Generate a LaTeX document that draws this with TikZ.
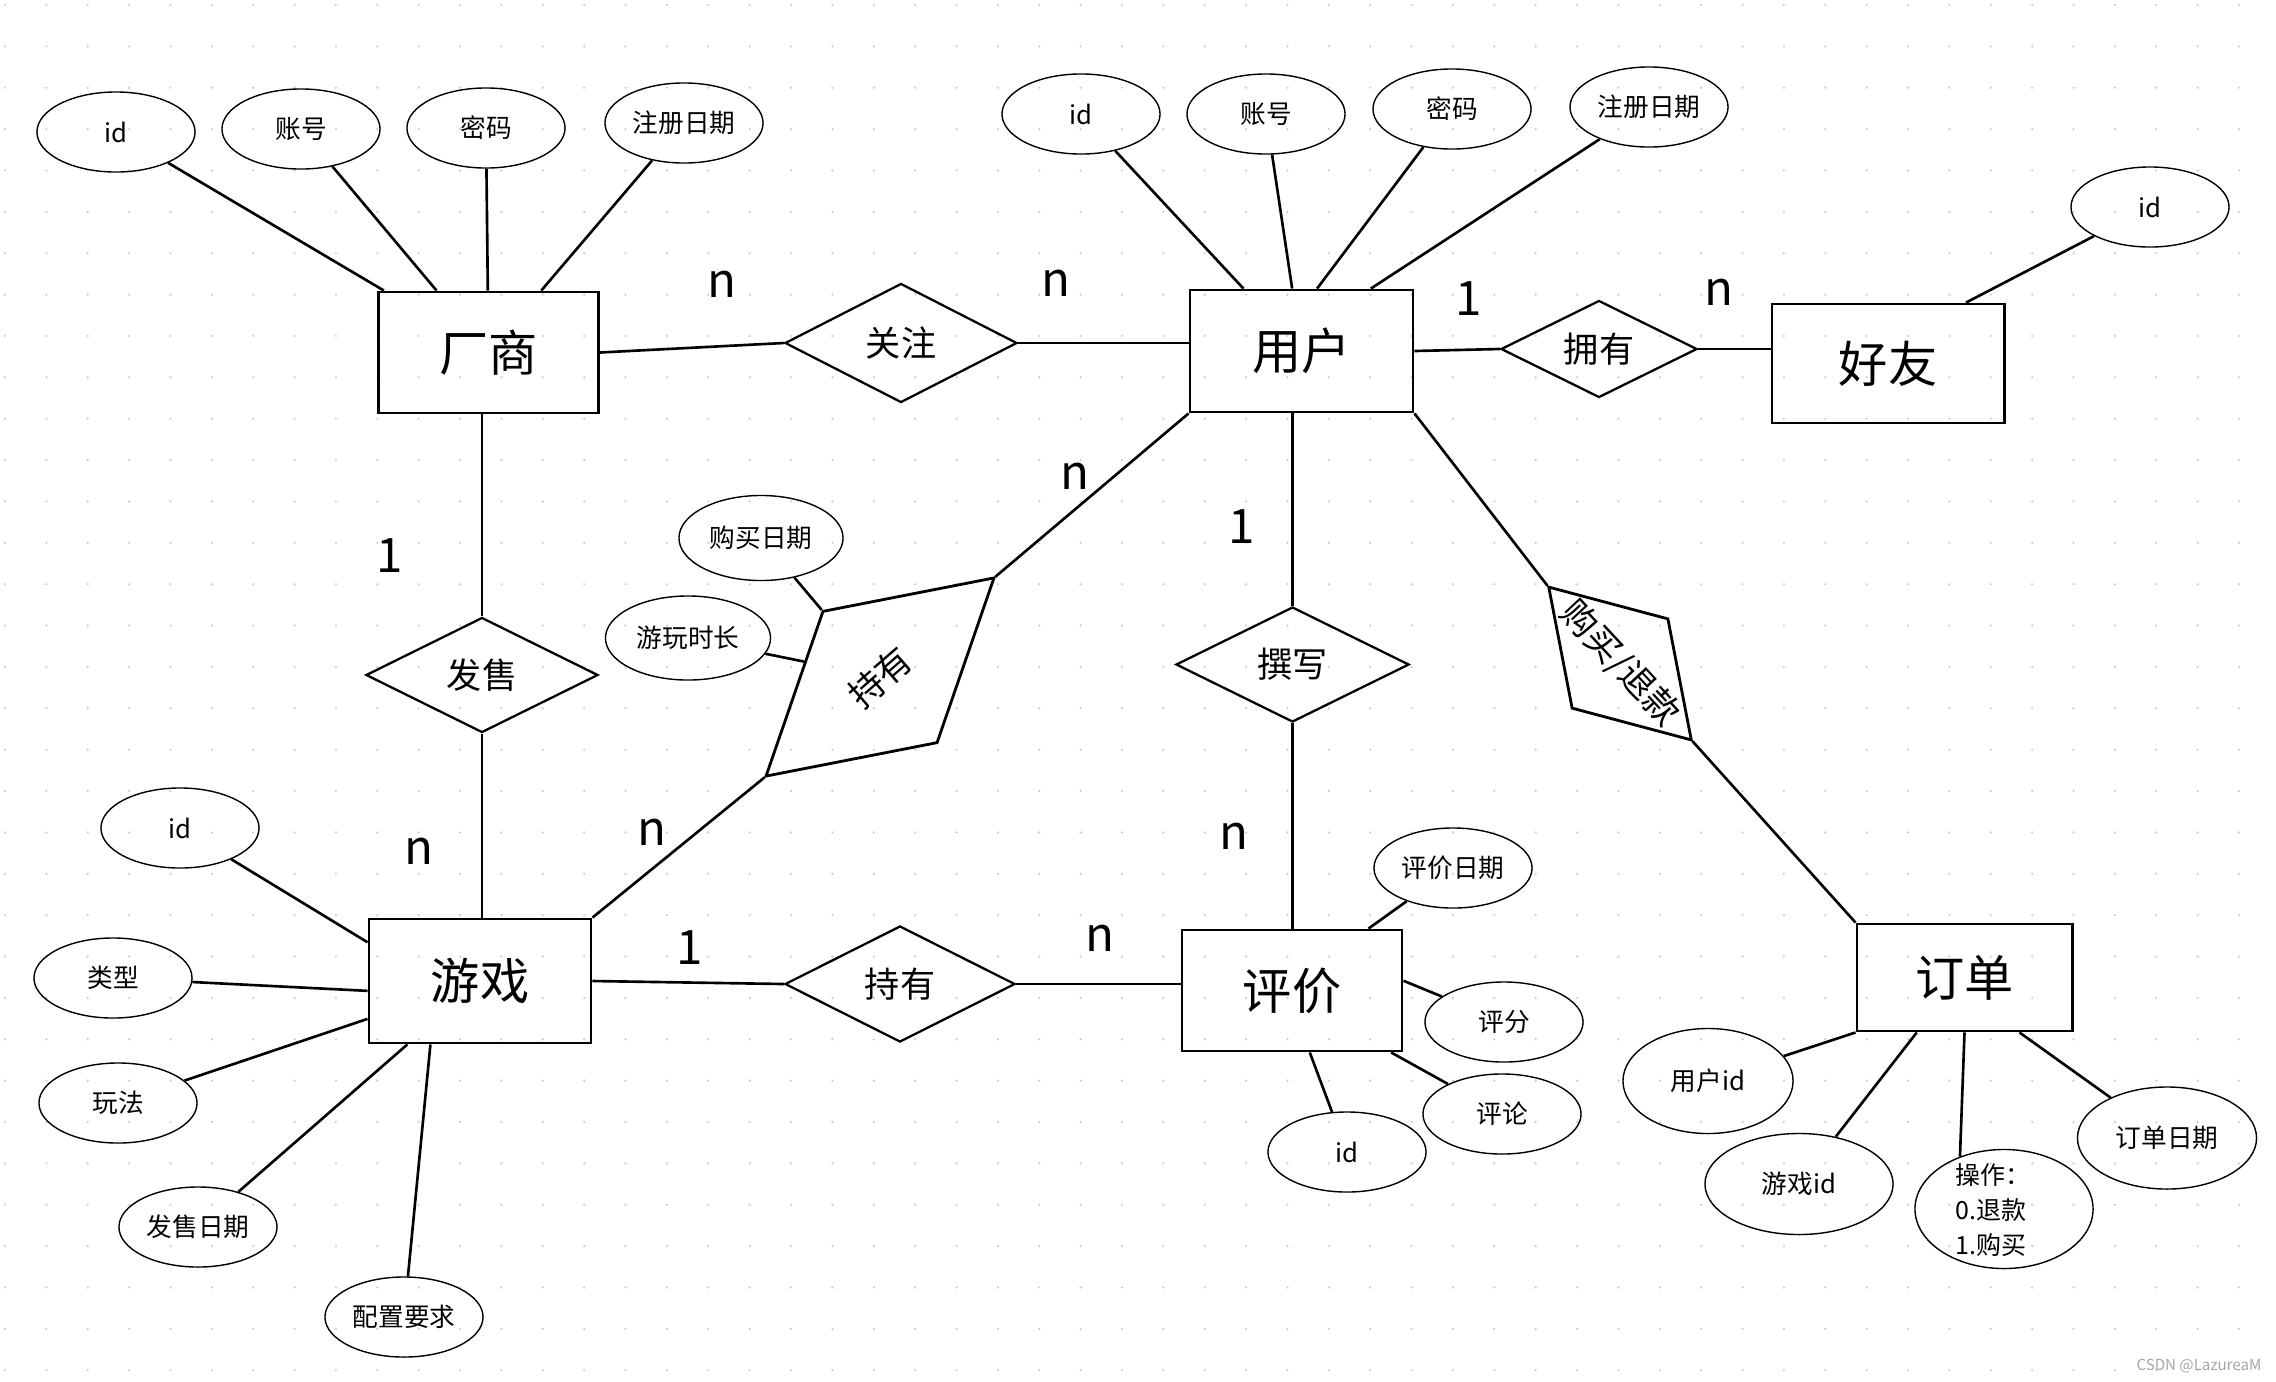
\documentclass[tikz,border=0pt]{standalone}
\usepackage{fontspec}
\setmainfont{Noto Sans CJK SC}
\usetikzlibrary{shapes.geometric}

\tikzset{
	entity/.style={draw, line width=0.8pt, minimum width=2.2cm, minimum height=1.21cm, inner sep=0pt, font=\fontsize{14pt}{16pt}\selectfont},
	relation/.style={draw, diamond, aspect=2, line width=0.65pt, inner sep=0pt, font=\fontsize{10pt}{12pt}\selectfont},
	attrib/.style={draw, ellipse, line width=0.4pt, minimum width=1.58cm, minimum height=0.8cm, inner sep=0pt, font=\fontsize{7.3pt}{9pt}\selectfont},
	card/.style={inner sep=0pt, font=\fontsize{13.5pt}{15pt}\selectfont},
	conn/.style={line width=0.75pt}
}

\begin{document}
\begin{tikzpicture}[x=0.01cm, y=-0.01cm]
	\useasboundingbox[fill=white] (0,0) rectangle (2276,1381);
	\foreach \i in {0,...,54}
		\foreach \j in {0,...,33}
			\fill[gray!40] (5+41.37*\i,5+41.37*\j) circle[radius=0.35pt];

	\node[entity] (cs) at (488.5,352.5) {厂商};
	\node[entity, minimum width=2.23cm, minimum height=1.22cm] (yh) at (1301.5,351) {用户};
	\node[entity, minimum width=2.32cm, minimum height=1.19cm] (hy) at (1888,363.5) {好友};
	\node[entity, minimum width=2.22cm, minimum height=1.24cm] (yx) at (480,981) {游戏};
	\node[entity] (pj) at (1292,990.5) {评价};
	\node[entity, minimum width=2.15cm, minimum height=1.07cm] (dd) at (1964.5,977.5) {订单};

	\node[relation, minimum width=2.32cm, minimum height=1.19cm] (gz) at (901,343) {关注};
	\node[relation, minimum width=1.96cm, minimum height=0.97cm] (yy) at (1599,349) {拥有};
	\node[relation, minimum width=2.32cm, minimum height=1.15cm] (fs) at (482,675) {发售};
	\node[relation, minimum width=2.33cm, minimum height=1.15cm] (zx) at (1292.5,664.5) {撰写};
	\node[relation, minimum width=2.3cm, minimum height=1.16cm] (cy) at (900,984) {持有};
	\node[relation, aspect=1, line width=0.8pt, rotate=41, minimum width=3.03cm, minimum height=1.75cm] (cyb) at (880,677) {持有};
	\node[relation, line width=0.8pt, rotate=-47, inner sep=-8pt, minimum width=2.1cm, minimum height=1.32cm] (gm) at (1620,663.5) {购买/退款};

	\node[attrib] (csid) at (116,132) {id};
	\node[attrib] (cszh) at (301,129) {账号};
	\node[attrib] (csmm) at (486,128) {密码};
	\node[attrib] (csrq) at (684,123) {注册日期};
	\node[attrib] (yhid) at (1081,114) {id};
	\node[attrib] (yhzh) at (1266,114) {账号};
	\node[attrib] (yhmm) at (1452,109) {密码};
	\node[attrib] (yhrq) at (1649,107) {注册日期};
	\node[attrib] (hyid) at (2150,207) {id};
	\node[attrib] (yxid) at (180,828) {id};
	\node[attrib] (yxlx) at (113,978) {类型};
	\node[attrib] (yxwf) at (118,1103) {玩法};
	\node[attrib] (yxrq) at (198,1227) {发售日期};
	\node[attrib] (yxpz) at (404,1317) {配置要求};
	\node[attrib, minimum width=1.64cm, minimum height=0.85cm] (cyrq) at (761,538) {购买日期};
	\node[attrib, minimum width=1.65cm, minimum height=0.84cm] (cysc) at (688,638) {游玩时长};
	\node[attrib] (pjrq) at (1453,868) {评价日期};
	\node[attrib] (pjpf) at (1504,1022) {评分};
	\node[attrib] (pjpl) at (1502,1114) {评论};
	\node[attrib] (pjid) at (1347,1152) {id};
	\node[attrib, minimum width=1.7cm, minimum height=1.05cm] (ddyh) at (1708,1081) {用户id};
	\node[attrib, minimum width=1.88cm, minimum height=1.01cm] (ddyx) at (1799,1184) {游戏id};
	\node[attrib, minimum width=1.78cm, minimum height=1.19cm] (ddcz) at (2004,1209) {};
	\node[inner sep=0pt, align=left, font=\fontsize{7.1pt}{10pt}\selectfont] (ddczt) at (1993,1210) {操作：\\0.退款\\1.购买};
	\node[attrib, minimum width=1.79cm, minimum height=1.02cm] (ddrq) at (2167,1138) {订单日期};

	\draw[conn] (csid) -- (cs);
	\draw[conn] (cszh) -- (cs);
	\draw[conn] (csmm) -- (cs);
	\draw[conn] (csrq) -- (cs);
	\draw[conn] (yhid) -- (yh);
	\draw[conn] (yhzh) -- (yh);
	\draw[conn] (yhmm) -- (yh.76);
	\draw[conn] (yhrq) -- (yh.42);
	\draw[conn] (hyid) -- (hy.38);
	\draw[conn] (yxid) -- (yx.161);
	\draw[conn] (yxlx) -- (yx.185);
	\draw[conn] (yxwf) -- (yx);
	\draw[conn] (yxrq) -- (yx);
	\draw[conn] (yxpz) -- (yx.-128);
	\draw[conn] (cyrq) -- (cyb.north);
	\draw[conn] (cysc) -- (cyb);
	\draw[conn] (pjrq) -- (pj.39);
	\draw[conn] (pjpf) -- (pj.5);
	\draw[conn] (pjpl) -- (pj.-32);
	\draw[conn] (pjid) -- (pj.-74);
	\draw[conn] (ddyh) -- (dd.south west);
	\draw[conn] (ddyx) -- (dd.-131);
	\draw[conn] (ddcz.130) -- (dd.south);
	\draw[conn] (ddrq) -- (dd.-45);

	\draw[conn] (cs.east) -- (gz.west);
	\draw[conn] (gz.east) -- (gz.east -| yh.west);
	\draw[conn] (yh.east) -- (yy.west);
	\draw[conn] (yy.east) -- (yy.east -| hy.west);
	\draw[conn] (fs.north |- cs.south) -- (fs.north);
	\draw[conn] (fs.south) -- (fs.south |- yx.north);
	\draw[conn] (yx.east) -- (cy.west);
	\draw[conn] (cy.east) -- (cy.east -| pj.west);
	\draw[conn] (zx.north |- yh.south) -- (zx.north);
	\draw[conn] (zx.south) -- (zx.south |- pj.north);
	\draw[conn] (yh.south west) -- (cyb.east);
	\draw[conn] (cyb.west) -- (yx.north east);
	\draw[conn] (yh.south east) -- (gm.west);
	\draw[conn] (gm.east) -- (dd.north west);

	\node[card] (n1) at (722,284) {n};
	\node[card] (n2) at (1056,283) {n};
	\node[card] (n3) at (1469,299) {1};
	\node[card] (n4) at (1719,292) {n};
	\node[card] (n5) at (390,556) {1};
	\node[card] (n6) at (419,851) {n};
	\node[card] (n7) at (1075,476) {n};
	\node[card] (n8) at (652,832) {n};
	\node[card] (n9) at (1242,527) {1};
	\node[card] (n10) at (1234,836) {n};
	\node[card] (n11) at (690,948) {1};
	\node[card] (n12) at (1100,938) {n};

	\node[anchor=east, inner sep=0pt, text=gray!70, font=\fontsize{4.3pt}{5pt}\selectfont] (wm) at (2262,1366) {CSDN @LazureaM};
\end{tikzpicture}
\end{document}
